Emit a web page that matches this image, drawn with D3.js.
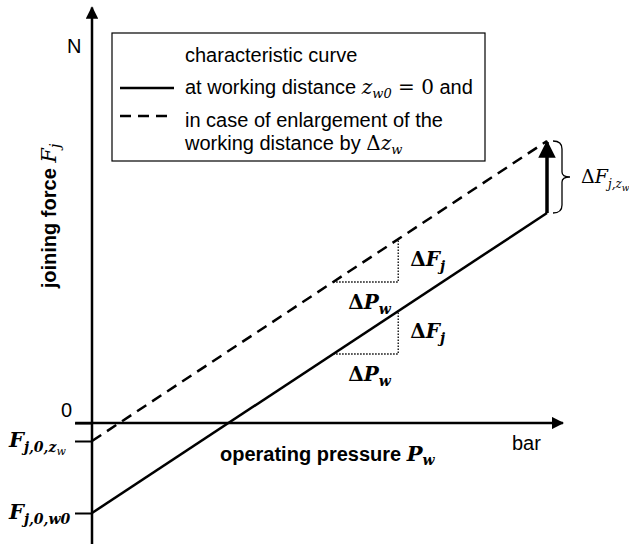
<!DOCTYPE html>
<html><head><meta charset="utf-8">
<script src="https://cdn.jsdelivr.net/npm/d3@7"></script>
<style>
body{margin:0;background:#fff;}
text{font-family:"Liberation Sans",Arial,sans-serif;fill:#000;}
.m{font-family:"DejaVu Serif","Liberation Serif",serif;font-style:italic;}
</style></head><body>
<svg id="c" width="629" height="544"></svg>
<script>
// ---- data ----
const pressure = [0, 10];                 // P_w (arbitrary units)
const solidForce = [-3, 7];               // F_j at z_w0 = 0
const dashedForce = [-0.6, 9.4];          // F_j after enlargement by Δz_w
const triangleP = [5.3, 6.73];            // slope triangle P range
const yTickValues = [0, -0.6, -3];
const xDomain = [-0.37, 10.35];
const yDomain = [-4.05, 13.85];

const svg = d3.select("#c");
const x = d3.scaleLinear().domain([0, 10]).range([92, 547]);
const y = d3.scaleLinear().domain([0, 10]).range([423, 123]);

const defs = svg.append("defs");
defs.append("marker").attr("id","ah").attr("viewBox","0 0 10 10").attr("refX",9).attr("refY",5)
  .attr("markerWidth",5).attr("markerHeight",5).attr("orient","auto-start-reverse").attr("markerUnits","strokeWidth")
  .append("path").attr("d","M0,0L10,5L0,10Z").attr("fill","#000");

// axes lines
svg.append("line").attr("x1",x(xDomain[0])).attr("x2",x(xDomain[1])).attr("y1",y(0)).attr("y2",y(0))
  .attr("stroke","#000").attr("stroke-width",2.5).attr("marker-end","url(#ah)");
svg.append("line").attr("x1",x(0)).attr("x2",x(0)).attr("y1",y(yDomain[0])).attr("y2",y(yDomain[1]))
  .attr("stroke","#000").attr("stroke-width",2.5).attr("marker-end","url(#ah)");

// y ticks via axis
const yAxis = d3.axisLeft(y).tickValues(yTickValues).tickSize(17).tickFormat("");
const ga = svg.append("g").attr("transform",`translate(${x(0)},0)`).call(yAxis);
ga.select(".domain").remove();
ga.selectAll(".tick line").attr("stroke","#000").attr("stroke-width",2);

// tick labels
svg.append("text").attr("x",72).attr("y",y(0)-6).attr("text-anchor","end").style("font-size","20px").text("0");
function fLabel(val, sub1, subsub){
  const t = svg.append("text").attr("class","m").attr("x",9).attr("y",y(val)+6)
    .style("font-size","21px").style("font-weight","bold");
  t.append("tspan").text("F");
  t.append("tspan").attr("dy",5).style("font-size","14px").text(sub1);
  if(subsub){
    t.append("tspan").attr("dy",3).style("font-size","11px").style("font-weight","normal").text(subsub);
  }
}
fLabel(-0.6, "j,0,z", "w");
fLabel(-3, "j,0,w0", null);

svg.append("text").attr("x",67).attr("y",53).style("font-size","20px").text("N");
svg.append("text").attr("x",512).attr("y",450).style("font-size","20px").text("bar");

// x axis title
const xt = svg.append("text").attr("x",220).attr("y",461).style("font-size","20px").style("font-weight","bold");
xt.append("tspan").text("operating pressure ");
xt.append("tspan").attr("class","m").style("font-size","21px").text("P");
xt.append("tspan").attr("class","m").attr("dy",4).style("font-size","14px").text("w");

// y axis title
const yt = svg.append("text").attr("transform","translate(56,216) rotate(-90)").attr("text-anchor","middle")
  .style("font-size","20px").style("font-weight","bold");
yt.append("tspan").text("joining force ");
yt.append("tspan").attr("class","m").style("font-size","21px").style("font-weight","normal").text("F");
yt.append("tspan").attr("class","m").attr("dy",4).style("font-size","14px").style("font-weight","normal").text("j");

// lines
const line = d3.line().x(d=>x(d[0])).y(d=>y(d[1]));
svg.append("path").attr("d",line(pressure.map((p,i)=>[p,solidForce[i]]))).attr("fill","none")
  .attr("stroke","#000").attr("stroke-width",2.5);
svg.append("path").attr("d",line(pressure.map((p,i)=>[p,dashedForce[i]]))).attr("fill","none")
  .attr("stroke","#000").attr("stroke-width",2.5).attr("stroke-dasharray","11,7");

// slope triangles
function tri(f0){
  const ya = y(f0(triangleP[0])), yb = y(f0(triangleP[1]));
  svg.append("path").attr("d",`M${x(triangleP[0])},${ya}H${x(triangleP[1])}V${yb}`)
    .attr("fill","none").attr("stroke","#000").attr("stroke-width",1.3).attr("stroke-dasharray","1.5,1.5");
  const t1 = svg.append("text").attr("class","m").attr("x",x(triangleP[1])+12).attr("y",(ya+yb)/2+5)
    .style("font-size","20px").style("font-weight","bold");
  t1.append("tspan").style("font-style","normal").text("Δ");
  t1.append("tspan").text("F");
  t1.append("tspan").attr("dy",5).style("font-size","14px").text("j");
  const t2 = svg.append("text").attr("class","m").attr("x",x(triangleP[0])+15).attr("y",ya+27)
    .style("font-size","20px").style("font-weight","bold");
  t2.append("tspan").style("font-style","normal").text("Δ");
  t2.append("tspan").text("P");
  t2.append("tspan").attr("dy",5).style("font-size","14px").text("w");
}
const fs = p => solidForce[0] + (solidForce[1]-solidForce[0])*(p-pressure[0])/(pressure[1]-pressure[0]);
const fd = p => dashedForce[0] + (dashedForce[1]-dashedForce[0])*(p-pressure[0])/(pressure[1]-pressure[0]);
tri(fd); tri(fs);

// shift arrow
svg.append("line").attr("x1",x(10)).attr("x2",x(10)).attr("y1",y(solidForce[1])).attr("y2",y(dashedForce[1])+1)
  .attr("stroke","#000").attr("stroke-width",3.5).attr("marker-end","url(#ah)");
// brace
const bt = y(dashedForce[1]), bb = y(solidForce[1]), bm=(bt+bb)/2, bx = x(10)+6;
svg.append("path").attr("d",`M${bx},${bt}Q${bx+9},${bt} ${bx+9},${bt+8}V${bm-5}Q${bx+9},${bm} ${bx+17},${bm}Q${bx+9},${bm} ${bx+9},${bm+5}V${bb-8}Q${bx+9},${bb} ${bx},${bb}`)
  .attr("fill","none").attr("stroke","#000").attr("stroke-width",1.3);
const bl = svg.append("text").attr("class","m").attr("x",581).attr("y",bm+6).style("font-size","19px");
bl.append("tspan").style("font-style","normal").text("Δ");
bl.append("tspan").text("F");
bl.append("tspan").attr("dy",5).style("font-size","12px").text("j,z");
bl.append("tspan").attr("dy",3).style("font-size","9px").text("w");

// legend
svg.append("rect").attr("x",112).attr("y",33).attr("width",373).attr("height",128)
  .attr("fill","#fff").attr("stroke","#000").attr("stroke-width",1.2);
svg.append("text").attr("x",185).attr("y",62).style("font-size","20px").text("characteristic curve");
svg.append("line").attr("x1",120).attr("x2",174).attr("y1",88).attr("y2",88).attr("stroke","#000").attr("stroke-width",2.5);
const l2 = svg.append("text").attr("x",185).attr("y",94).style("font-size","20px");
l2.append("tspan").text("at working distance ");
l2.append("tspan").attr("class","m").style("font-size","20px").text("z");
l2.append("tspan").attr("class","m").attr("dy",4).style("font-size","13px").text("w0");
l2.append("tspan").attr("dy",-4).attr("class","m").style("font-style","normal").style("font-size","20px").text(" = 0");
l2.append("tspan").text(" and");
svg.append("line").attr("x1",120).attr("x2",174).attr("y1",116).attr("y2",116).attr("stroke","#000").attr("stroke-width",2.5).attr("stroke-dasharray","11,7");
svg.append("text").attr("x",185).attr("y",127).style("font-size","20px").text("in case of enlargement of the");
const l4 = svg.append("text").attr("x",185).attr("y",150).style("font-size","20px");
l4.append("tspan").text("working distance by ");
l4.append("tspan").attr("class","m").style("font-style","normal").style("font-size","20px").text("Δ");
l4.append("tspan").attr("class","m").style("font-size","20px").text("z");
l4.append("tspan").attr("class","m").attr("dy",4).style("font-size","13px").text("w");
</script></body></html>
